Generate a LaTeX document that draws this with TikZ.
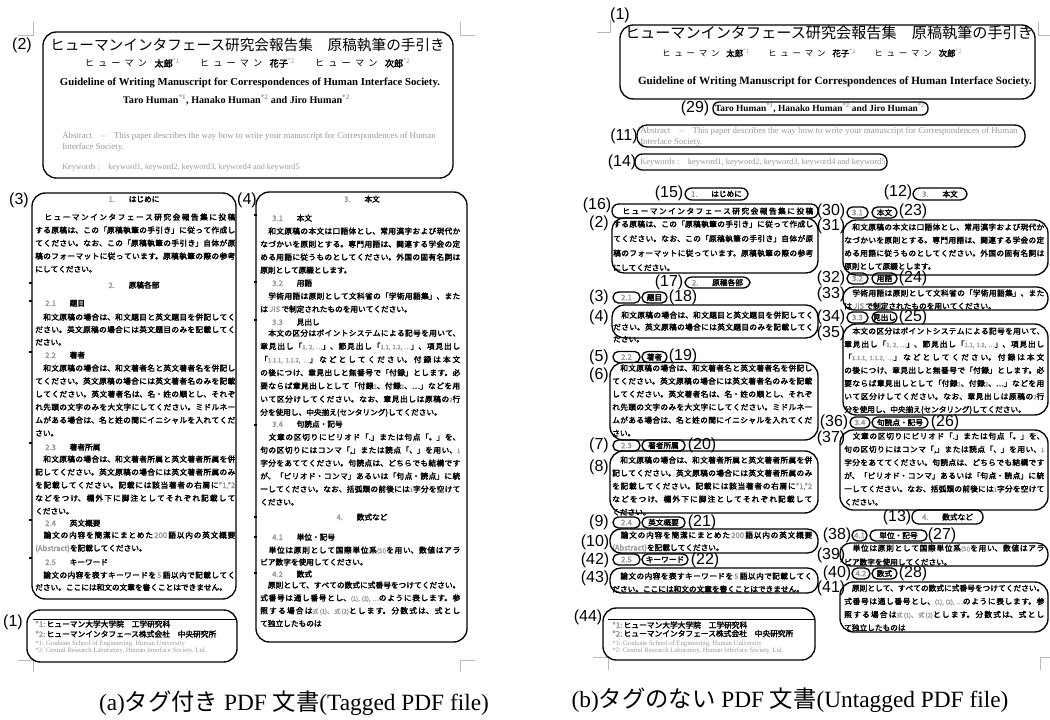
\documentclass[tikz,border=0pt]{standalone}
\usepackage{fontspec}
\usepackage{graphicx}
\setmainfont{Liberation Serif}
\newfontfamily\jp{Noto Sans CJK JP}
\newfontfamily\jpb[FakeBold=2.6]{Noto Sans CJK JP}
\newfontfamily\lab{Liberation Sans}
\XeTeXlinebreaklocale "ja"
\XeTeXlinebreakskip=0pt plus 1pt
\definecolor{gt}{gray}{0.6}
\newcommand\gr[1]{\textcolor{gt}{#1}}
\newcommand\gs[1]{{\fontsize{4.5}{5}\selectfont\textcolor{gt}{#1}}}
\newcommand\bodyfs[1]{\jpb\fontsize{5.75}{#1}\selectfont}
\newcommand\bodyf{\bodyfs{9.75}}
% ---- texts ----
\newcommand\hA{\gr{1.}\hspace{1.8em}はじめに}
\newcommand\hB{\gr{2.}\hspace{1.8em}原稿各部}
\newcommand\hC{\gr{3.}\hspace{1.8em}本文}
\newcommand\hD{\gr{4.}\hspace{1.8em}数式など}
\newcommand\pAa{　ヒューマンインタフェース研究会報告集に投稿}
\newcommand\pAb{する原稿は、この「原稿執筆の手引き」に従って作成し\linebreak てください。なお、この「原稿執筆の手引き」自体が原\linebreak 稿のフォーマットに従っています。原稿執筆の際の参考\linebreak にしてください。}
\newcommand\pB{　和文原稿の場合は、和文題目と英文題目を併記してく\linebreak ださい。英文原稿の場合には英文題目のみを記載してく\linebreak ださい。}
\newcommand\pC{　和文原稿の場合は、和文著者名と英文著者名を併記し\linebreak てください。英文原稿の場合には英文著者名のみを記載\linebreak してください。英文著者名は、名・姓の順とし、それぞ\linebreak れ先頭の文字のみを大文字にしてください。ミドルネー\linebreak ムがある場合は、名と姓の間にイニシャルを入れてくだ\linebreak さい。}
\newcommand\pD{　和文原稿の場合は、和文著者所属と英文著者所属を併\linebreak 記してください。英文原稿の場合には英文著者所属のみ\linebreak を記載してください。記載には該当著者の右肩に\gr{*1,*2}\linebreak などをつけ、欄外下に脚注としてそれぞれ記載して\linebreak ください。}
\newcommand\pE{　論文の内容を簡潔にまとめた\gr{\,200\,}語以内の英文概要\linebreak \gr{(Abstract)}を記載してください。}
\newcommand\pF{　論文の内容を表すキーワードを\gr{\,5\,}語以内で記載してく\linebreak ださい。ここには和文の文章を書くことはできません。}
\newcommand\pG{　和文原稿の本文は口語体とし、常用漢字および現代か\linebreak なづかいを原則とする。専門用語は、関連する学会の定\linebreak める用語に従うものとしてください。外国の固有名詞は\linebreak 原則として原綴とします。}
\newcommand\pH{　学術用語は原則として文科省の「学術用語集」、また\linebreak は\gr{\,JIS\,}で制定されたものを用いてください。}
\newcommand\pI{　本文の区分はポイントシステムによる記号を用いて、\linebreak 章見出し「\gs{1, 2, …}」、節見出し「\gs{1.1, 1.2, …}」、項見出し\linebreak 「\gs{1.1.1, 1.1.2, …}」などとしてください。付録は本文\linebreak の後につけ、章見出しと無番号で「付録」とします。必\linebreak 要ならば章見出しとして「付録\gs{1}、付録\gs{2}、…」などを用\linebreak いて区分けしてください。なお、章見出しは原稿の\gs{2}行\linebreak 分を使用し、中央揃え(センタリング)してください。}
\newcommand\pJ{　文章の区切りにピリオド「.」または句点「。」を、\linebreak 句の区切りにはコンマ「,」または読点「、」を用い、\gs{1}\linebreak 字分をあててください。句読点は、どちらでも結構です\linebreak が、「ピリオド・コンマ」あるいは「句点・読点」に統\linebreak 一してください。なお、括弧類の前後には\gs{1}字分を空けて\linebreak ください。}
\newcommand\pK{　単位は原則として国際単位系\gs{(SI)}を用い、数値はアラ\linebreak ビア数字を使用してください。}
\newcommand\pL{　原則として、すべての数式に式番号をつけてください。\linebreak 式番号は通し番号とし、\gs{(1), (2), …}のように表します。参\linebreak 照する場合は\gs{式(1)、式(2)}とします。分数式は、式とし\linebreak て独立したものは}
\newcommand\hm{ヒ\kern.45emュ\kern.45emー\kern.45emマ\kern.45emン}
\newcommand\authors{\jp\hm\kern.8em{\jpb 太郎}\textsuperscript{\gr{*1}}\hspace{2.2em}\hm\kern.8em{\jpb 花子}\textsuperscript{\gr{*2}}\hspace{2.2em}\hm\kern.8em{\jpb 次郎}\textsuperscript{\gr{*2}}}
\newcommand\titleJ{\jp ヒューマンインタフェース研究会報告集　原稿執筆の手引き}
\newcommand\titleE{\bfseries Guideline of Writing Manuscript for Correspondences of Human Interface Society.}
\newcommand\authE{\bfseries Taro Human\textsuperscript{\gr{*1}}, Hanako Human\textsuperscript{\gr{*2}} and Jiro Human\textsuperscript{\gr{*2}}}
\newcommand\abst{\color{gt}\fontsize{6}{7.5}\selectfont\begin{tabular}{@{}l@{}}Abstract\quad --\quad This paper describes the way how to write your manuscript for Correspondences of Human\\Interface Society.\end{tabular}}
\newcommand\kw{\color{gt}\fontsize{6}{7.5}\selectfont Keywords :\quad keyword1, keyword2, keyword3, keyword4 and keyword5}
\newcommand\fnA{{\jpb\fontsize{5.8}{6}\selectfont\gr{*1:}\,ヒューマン大学大学院　工学研究科}}
\newcommand\fnB{{\jpb\fontsize{5.8}{6}\selectfont\gr{*2:}\,ヒューマンインタフェース株式会社　中央研究所}}
\newcommand\fnC{{\color{gt}\fontsize{5}{6}\selectfont *1: Graduate School of Engineering, Human University}}
\newcommand\fnD{{\color{gt}\fontsize{5}{6}\selectfont *2: Central Research Laboratory, Human Interface Society, Ltd.}}
\tikzset{
  abox/.style={draw=black, line width=1pt},
  lbl/.style={font=\lab\fontsize{12}{12}\selectfont, inner sep=0pt},
  para/.style={anchor=base west, inner sep=0pt, text width=150pt, align=justify, font=\bodyf},
  hd/.style={anchor=base, inner sep=0pt, font=\bodyf},
  sh/.style={anchor=base west, inner sep=0pt, font=\bodyf},
  pilltxt/.style={inner sep=0pt, font=\bodyf},
  cropmark/.style={draw=gray!55, line width=0.6pt},
  fn/.style={anchor=base west, inner sep=0pt},
  tickmark/.style={fill=black},
  captxt/.style={inner sep=0pt, font=\fontsize{17.5}{20}\selectfont}
}
\begin{document}
\begin{tikzpicture}[x=0.75pt,y=-0.75pt]
\useasboundingbox (0,0) rectangle (1050,720);
% ================= (a) tagged =================
\draw[cropmark] (18,35) -- (33,35) -- (33,22);
\draw[cropmark] (475,35) -- (460,35) -- (460,22);
\draw[cropmark] (18,660) -- (33,660) -- (33,672);
\draw[cropmark] (475,660) -- (460,660) -- (460,672);
\node[inner sep=0] (aT) at (247.5,45) {\resizebox{296pt}{!}{\titleJ}};
\node[inner sep=0] (aAu) at (247.5,63) {\resizebox{244pt}{!}{\authors}};
\node[inner sep=0] (aET) at (250,83) {\resizebox{285pt}{!}{\titleE}};
\node[inner sep=0] (aEA) at (236.5,100) {\resizebox{170pt}{!}{\authE}};
\node[anchor=west,inner sep=0] (aAb) at (62,142) {\resizebox{280pt}{!}{\abst}};
\node[anchor=west,inner sep=0] (aKw) at (62,168) {\resizebox{178pt}{!}{\kw}};
% column 1
\node[hd] (ah1) at (134,202) {\hA};
\node[para] (ap1) at (35,220) {\pAa\linebreak \pAb};
\node[hd] (ah2) at (134,288) {\hB};
\node[sh] (as21) at (45,306) {\gr{2.1}\hspace{1.8em}題目};
\node[para,font={\bodyfs{9.4}}] (ap21) at (35,320) {\pB};
\node[sh] (as22) at (45,358) {\gr{2.2}\hspace{1.8em}著者};
\node[para] (ap22) at (35,371) {\pC};
\node[sh] (as23) at (45,450) {\gr{2.3}\hspace{1.8em}著者所属};
\node[para] (ap23) at (35,462) {\pD};
\node[sh] (as24) at (45,526) {\gr{2.4}\hspace{1.8em}英文概要};
\node[para] (ap24) at (35,538) {\pE};
\node[sh] (as25) at (45,565) {\gr{2.5}\hspace{1.8em}キーワード};
\node[para,font={\bodyfs{9.2}}] (ap25) at (35,578) {\pF};
% column 2
\node[hd] (ah3) at (362,202) {\hC};
\node[sh] (as31) at (272,221) {\gr{3.1}\hspace{1.8em}本文};
\node[para] (ap31) at (260,234) {\pG};
\node[sh] (as32) at (272,286) {\gr{3.2}\hspace{1.8em}用語};
\node[para] (ap32) at (260,299) {\pH};
\node[sh] (as33) at (272,325) {\gr{3.3}\hspace{1.8em}見出し};
\node[para,font={\bodyfs{9.9}}] (ap33) at (260,336) {\pI};
\node[sh] (as34) at (272,427) {\gr{3.4}\hspace{1.8em}句読点・記号};
\node[para] (ap34) at (260,440) {\pJ};
\node[hd] (ah4) at (362,520) {\hD};
\node[sh] (as41) at (272,540) {\gr{4.1}\hspace{1.8em}単位・記号};
\node[para,font={\bodyfs{9}}] (ap41) at (260,553) {\pK};
\node[sh] (as42) at (272,577) {\gr{4.2}\hspace{1.8em}数式};
\node[para,font={\bodyfs{9.6}}] (ap42) at (260,588) {\pL};
% ticks
\foreach \yy in {283,301,352,443,520,558} {\fill[tickmark] (29,\yy-1.2) rectangle (31.5,\yy+1.2);}
\foreach \yy in {215,282,320,425,517,537,573} {\fill[tickmark] (254,\yy-1.2) rectangle (256.5,\yy+1.2);}
% footnotes
\draw[line width=0.6pt] (33,619) -- (236,619);
\node[fn] (afA) at (35,627) {\fnA};
\node[fn] (afB) at (35,637) {\fnB};
\node[fn] (afC) at (35,645.5) {\fnC};
\node[fn] (afD) at (35,652.5) {\fnD};
% boxes
\draw[abox,rounded corners=10pt] (43,32) rectangle (453,178);
\draw[abox,rounded corners=10pt] (32,193) rectangle (236,599);
\draw[abox,rounded corners=10pt] (256,192) rectangle (467,642);
\draw[abox,rounded corners=10pt] (27,610) rectangle (237,662);
\node[lbl] (aL2) at (22,45) {(2)};
\node[lbl] (aL3) at (19,200) {(3)};
\node[lbl] (aL4) at (247,200) {(4)};
\node[lbl] (aL1) at (13,622) {(1)};
\node[captxt] (capA) at (294,703) {(a){\jp タグ付き} PDF {\jp 文書}(Tagged PDF file)};
% ================= (b) untagged =================
\draw[cropmark] (597,32) -- (610,32) -- (610,20);
\draw[cropmark] (1050,35) -- (1038,35) -- (1038,22);
\draw[cropmark] (593,657) -- (608,657) -- (608,670);
\draw[cropmark] (1050,657) -- (1040,657) -- (1040,670);
\node[inner sep=0] (bT) at (829,33) {\resizebox{306pt}{!}{\titleJ}};
\node[inner sep=0] (bAu) at (812,53) {\resizebox{225pt}{!}{\authors}};
\node[inner sep=0] (bET) at (835,82) {\resizebox{295.5pt}{!}{\titleE}};
\node[inner sep=0] (bEA) at (820,108) {\resizebox{157.5pt}{!}{\authE}};
\node[anchor=west,inner sep=0] (bAb) at (640,137) {\resizebox{283pt}{!}{\abst}};
\node[anchor=west,inner sep=0] (bKw) at (640,162) {\resizebox{184pt}{!}{\kw}};
\draw[abox,rounded corners=10pt] (620,25) rectangle (1035,99);
\draw[abox,rounded corners=4.5pt] (713,102) rectangle (928,115);
\draw[abox,rounded corners=7.5pt] (637,125) rectangle (1025,147);
\draw[abox,rounded corners=5.5pt] (635,154) rectangle (887,170);
% column 1 texts
\node[pilltxt] (bh1) at (716.5,194) {\hA};
\node[para] (bp1a) at (613,214) {\pAa\linebreak\mbox{}};
\node[para,font={\bodyfs{10.9}}] (bp1b) at (613,227) {\pAb};
\node[pilltxt] (bh2) at (717.5,282.5) {\hB};
\node[pilltxt] (bn21) at (626.5,297.5) {\gr{2.1}};
\node[pilltxt] (bt21) at (654.5,297.5) {題目};
\node[para,font={\bodyfs{9}}] (bp21) at (613,318) {\pB};
\node[pilltxt] (bn22) at (626.5,357) {\gr{2.2}};
\node[pilltxt] (bt22) at (654.5,357) {著者};
\node[para] (bp22) at (612,371) {\pC};
\node[pilltxt] (bn23) at (626.5,445.5) {\gr{2.3}};
\node[pilltxt] (bt23) at (663.5,445.5) {著者所属};
\node[para] (bp23) at (612,463) {\pD};
\node[pilltxt] (bn24) at (626.5,522.5) {\gr{2.4}};
\node[pilltxt] (bt24) at (663.5,522.5) {英文概要};
\node[para,font={\bodyfs{9.4}}] (bp24) at (612,538) {\pE};
\node[pilltxt] (bn25) at (626.5,559.5) {\gr{2.5}};
\node[pilltxt] (bt25) at (665,559.5) {キーワード};
\node[para] (bp25) at (612,579) {\pF};
% column 2 texts
\node[pilltxt] (bh3) at (940,194) {\hC};
\node[pilltxt] (bn31) at (857.5,212.5) {\gr{3.1}};
\node[pilltxt] (bt31) at (884.5,212.5) {本文};
\node[para,font={\bodyfs{9.8}}] (bp31) at (844,230) {\pG};
\node[pilltxt] (bn32) at (857.5,278.5) {\gr{3.2}};
\node[pilltxt] (bt32) at (884.5,278.5) {用語};
\node[para] (bp32) at (844,296) {\pH};
\node[pilltxt] (bn33) at (857.5,317.5) {\gr{3.3}};
\node[pilltxt] (bt33) at (884.5,317.5) {見出し};
\node[para,font={\bodyfs{9.8}}] (bp33) at (844,334) {\pI};
\node[pilltxt] (bn34) at (860,422.5) {\gr{3.4}};
\node[pilltxt] (bt34) at (900,422.5) {句読点・記号};
\node[para,font={\bodyfs{9.9}}] (bp34) at (844,439) {\pJ};
\node[pilltxt] (bh4) at (947.5,517) {\hD};
\node[pilltxt] (bn41) at (859.5,535.5) {\gr{4.1}};
\node[pilltxt] (bt41) at (898.5,535.5) {単位・記号};
\node[para,font={\bodyfs{10.5}}] (bp41) at (844,551) {\pK};
\node[pilltxt] (bn42) at (861,573.5) {\gr{4.2}};
\node[pilltxt] (bt42) at (884.5,573.5) {数式};
\node[para,font={\bodyfs{9.9}}] (bp42) at (844,591) {\pL};
% footnotes
\draw[line width=0.6pt] (608,619) -- (815,619);
\node[fn] (bfA) at (612,628) {\fnA};
\node[fn] (bfB) at (612,636.5) {\fnB};
\node[fn] (bfC) at (612,645) {\fnC};
\node[fn] (bfD) at (612,652) {\fnD};
% boxes and pills, column 1
\draw[abox,rounded corners=5pt] (685,188) rectangle (748,200);
\draw[abox,rounded corners=5pt] (612,204) rectangle (818,218);
\draw[abox,rounded corners=9pt] (612,218) rectangle (818,273);
\draw[abox,rounded corners=5pt] (685,277) rectangle (750,288);
\draw[abox,rounded corners=4pt] (613,292) rectangle (640,303);
\draw[abox,rounded corners=4pt] (642,292) rectangle (667,303);
\draw[abox,rounded corners=9pt] (612,305) rectangle (818,338);
\draw[abox,rounded corners=4pt] (613,351.5) rectangle (640,362.5);
\draw[abox,rounded corners=4pt] (642,351.5) rectangle (667,362.5);
\draw[abox,rounded corners=10pt] (610,362.5) rectangle (818,440);
\draw[abox,rounded corners=4pt] (613,440) rectangle (640,451);
\draw[abox,rounded corners=4pt] (642,440) rectangle (685,451);
\draw[abox,rounded corners=10pt] (610,451) rectangle (818,513);
\draw[abox,rounded corners=4pt] (613,517) rectangle (640,528);
\draw[abox,rounded corners=4pt] (642,517) rectangle (685,528);
\draw[abox,rounded corners=8pt] (610,529) rectangle (818,553);
\draw[abox,rounded corners=4pt] (613,554) rectangle (640,565);
\draw[abox,rounded corners=4pt] (642,554) rectangle (688,565);
\draw[abox,rounded corners=8pt] (610,568) rectangle (818,593);
\draw[abox,rounded corners=10pt] (603,608) rectangle (815,660);
% boxes and pills, column 2
\draw[abox,rounded corners=5pt] (913,188) rectangle (967,200);
\draw[abox,rounded corners=4pt] (847,207) rectangle (868,218);
\draw[abox,rounded corners=4pt] (872,207) rectangle (897,218);
\draw[abox,rounded corners=10pt] (843,220) rectangle (1048,275);
\draw[abox,rounded corners=4pt] (847,273) rectangle (868,284);
\draw[abox,rounded corners=4pt] (872,273) rectangle (897,284);
\draw[abox,rounded corners=8pt] (843,287) rectangle (1048,310);
\draw[abox,rounded corners=4pt] (847,312) rectangle (868,323);
\draw[abox,rounded corners=4pt] (872,312) rectangle (897,323);
\draw[abox,rounded corners=10pt] (843,324) rectangle (1048,415);
\draw[abox,rounded corners=4pt] (850,417) rectangle (870,428);
\draw[abox,rounded corners=4pt] (872,417) rectangle (928,428);
\draw[abox,rounded corners=10pt] (840,430) rectangle (1048,510);
\draw[abox,rounded corners=5pt] (912,510) rectangle (983,524);
\draw[abox,rounded corners=4pt] (852,530) rectangle (867,541);
\draw[abox,rounded corners=4pt] (870,530) rectangle (927,541);
\draw[abox,rounded corners=8pt] (840,543) rectangle (1048,566);
\draw[abox,rounded corners=4pt] (852,568) rectangle (870,579);
\draw[abox,rounded corners=4pt] (872,568) rectangle (897,579);
\draw[abox,rounded corners=10pt] (840,582) rectangle (1048,632);
% labels
\node[lbl] (bL1) at (620,15) {(1)};
\node[lbl] (bL29) at (695,108) {(29)};
\node[lbl] (bL11) at (624,136) {(11)};
\node[lbl] (bL14) at (622,162) {(14)};
\node[lbl] (bL15) at (669,193) {(15)};
\node[lbl] (bL12) at (898,192) {(12)};
\node[lbl] (bL16) at (597,205) {(16)};
\node[lbl] (bL2) at (599,223) {(2)};
\node[lbl] (bL30) at (831,211) {(30)};
\node[lbl] (bL23) at (913,211) {(23)};
\node[lbl] (bL31) at (831,226) {(31)};
\node[lbl] (bL17) at (669,282) {(17)};
\node[lbl] (bL32) at (831,278) {(32)};
\node[lbl] (bL24) at (913,278) {(24)};
\node[lbl] (bL33) at (831,294) {(33)};
\node[lbl] (bL3) at (599,297) {(3)};
\node[lbl] (bL18) at (683,297) {(18)};
\node[lbl] (bL4) at (599,317) {(4)};
\node[lbl] (bL34) at (831,317) {(34)};
\node[lbl] (bL25) at (913,317) {(25)};
\node[lbl] (bL35) at (831,333) {(35)};
\node[lbl] (bL5) at (599,357) {(5)};
\node[lbl] (bL19) at (683,356) {(19)};
\node[lbl] (bL6) at (599,375) {(6)};
\node[lbl] (bL36) at (834,422) {(36)};
\node[lbl] (bL26) at (945,422) {(26)};
\node[lbl] (bL37) at (831,438) {(37)};
\node[lbl] (bL7) at (599,445) {(7)};
\node[lbl] (bL20) at (702,445) {(20)};
\node[lbl] (bL8) at (599,467) {(8)};
\node[lbl] (bL13) at (897,517) {(13)};
\node[lbl] (bL9) at (599,522) {(9)};
\node[lbl] (bL21) at (702,522) {(21)};
\node[lbl] (bL38) at (837,535) {(38)};
\node[lbl] (bL27) at (942,535) {(27)};
\node[lbl] (bL10) at (595,542) {(10)};
\node[lbl] (bL39) at (831,555) {(39)};
\node[lbl] (bL42) at (595,560) {(42)};
\node[lbl] (bL22) at (705,560) {(22)};
\node[lbl] (bL40) at (837,573) {(40)};
\node[lbl] (bL28) at (913,573) {(28)};
\node[lbl] (bL43) at (595,578) {(43)};
\node[lbl] (bL41) at (831,588) {(41)};
\node[lbl] (bL44) at (588,617) {(44)};
\node[captxt] (capB) at (790,700) {(b){\jp タグのない} PDF {\jp 文書}(Untagged PDF file)};
\end{tikzpicture}
\end{document}
